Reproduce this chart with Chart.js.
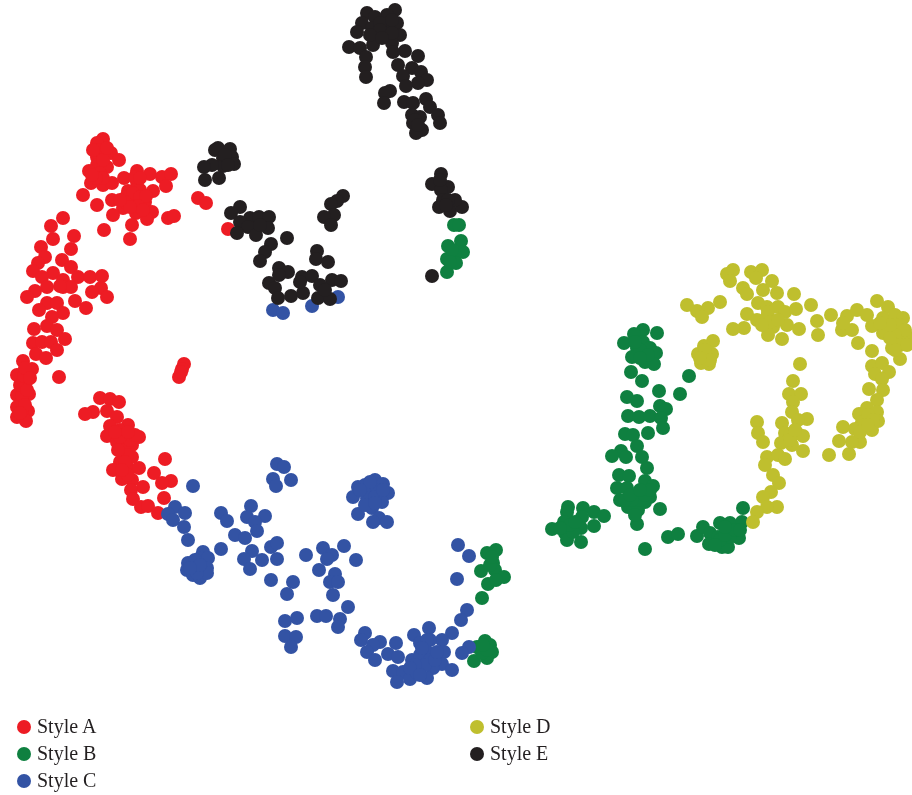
<!DOCTYPE html>
<html>
<head>
<meta charset="utf-8">
<title>Style scatter</title>
<script src="https://cdn.jsdelivr.net/npm/chart.js@4"></script>
<style>
html, body { margin: 0; padding: 0; background: #fff; overflow: hidden; }
#wrap { position: relative; width: 912px; height: 795px; }
.item { position: absolute; font: 20px "Liberation Serif", serif; color: #231f20; line-height: 20px; white-space: nowrap; }
.item i { position: absolute; left: -20px; top: 3px; width: 14px; height: 14px; border-radius: 50%; }
</style>
</head>
<body>
<div id="wrap">
<canvas id="scatter" width="912" height="795"></canvas>
<div id="legend"></div>
</div>
<script>
// values, no axes in the original so picture units are used
const styleA = [[103,139],[97,143],[111,153],[97,157],[119,160],[107,167],[97,165],[89,171],[100,173],[91,183],[103,185],[112,183],[124,178],[137,171],[150,174],[162,177],[171,174],[166,186],[137,182],[128,191],[140,190],[153,191],[83,195],[97,205],[112,200],[132,200],[145,202],[123,208],[113,215],[136,213],[152,212],[147,219],[132,225],[130,239],[104,230],[168,218],[174,216],[198,198],[206,203],[228,229],
[126,197],[133,193],[140,197],[146,196],[125,202],[138,206],[130,207],[120,200],[143,210],[100,150],[103,160],[93,150],[103,178],[96,178],[92,175],[107,148],[135,177],[140,178],
[63,218],[51,226],[53,239],[74,236],[71,249],[41,247],[45,257],[38,263],[62,260],[71,267],[33,271],[53,273],[42,277],[63,280],[78,277],[90,277],[102,276],[47,287],[63,287],[71,287],[35,291],[27,297],[101,288],[92,292],[107,297],[75,301],[86,308],[47,303],[57,303],[39,310],[63,313],[52,317],[47,326],[34,329],[57,330],[65,339],[33,343],[42,342],[51,342],[36,354],[46,358],[57,350],[23,361],[32,369],[17,375],[27,380],[59,377],[22,388],[29,394],[17,395],[22,402],[17,407],[28,411],[17,417],[26,421],[184,364],[182,369],[179,377],[181,372],
[22,395],[22,410],[20,385],[24,376],[27,390],[25,405],[20,413],[25,368],[30,378],[60,286],
[100,398],[110,399],[119,402],[107,411],[93,412],[85,414],[117,417],[110,426],[128,425],[120,430],[107,436],[139,437],[125,435],[117,442],[132,445],[123,448],[132,457],[165,459],[120,462],[113,470],[128,468],[139,468],[154,473],[122,479],[132,480],[171,481],[162,483],[143,487],[131,490],[164,498],[133,499],[141,507],[148,506],[158,513],
[125,445],[130,440],[120,437],[127,455],[118,450],[125,462],[128,475],[122,470],[135,435],[115,432],[128,432]];

const styleB = [[487,553],[496,550],[493,563],[481,571],[495,570],[504,577],[488,584],[482,598],[496,580],[485,641],[477,647],[490,645],[492,652],[487,658],[474,661],[482,653],[487,650],[483,645],[490,565],[492,557],
[454,225],[459,225],[448,246],[461,241],[463,252],[447,259],[455,255],[456,263],[447,272],[452,250],[450,262],
[643,330],[657,333],[634,334],[624,343],[643,342],[637,348],[650,348],[656,353],[632,357],[645,362],[654,364],[631,372],[642,381],[659,391],[689,376],[680,394],[627,397],[637,401],[660,406],[666,409],[628,416],[639,417],[650,416],[661,418],[663,428],[648,433],[625,434],[633,435],[637,446],[621,451],[612,456],[626,457],[642,457],[647,468],[619,475],[629,476],[645,481],[653,486],[617,488],[627,488],[620,500],[637,495],[650,497],[645,502],[628,507],[638,510],[660,509],[637,524],[645,549],[668,537],[678,534],
[640,350],[635,342],[648,355],[640,358],[640,500],[632,500],[645,495],[635,515],[625,500],[630,495],[650,490],[640,490],
[568,507],[567,512],[583,508],[582,517],[594,512],[604,516],[594,526],[564,522],[552,529],[572,527],[581,528],[565,533],[567,540],[581,542],[573,532],[570,525],[575,522],[560,528],
[697,536],[703,527],[710,533],[709,544],[720,523],[730,523],[742,522],[743,508],[722,547],[728,547],[739,538],[730,537],[718,537],[720,540],[725,535],[715,545],[735,530],[725,527],[740,530]];

const styleC = [[193,486],[175,507],[185,513],[168,514],[173,520],[184,527],[188,540],[203,552],[221,549],[188,563],[187,570],[200,558],[208,558],[207,568],[193,575],[200,578],[207,573],[197,567],[197,573],[195,560],[200,565],[190,568],
[221,513],[227,521],[251,506],[265,516],[247,517],[255,522],[257,531],[235,535],[245,538],[252,551],[244,559],[262,560],[277,559],[250,569],[271,547],[277,543],[271,580],[293,582],[287,594],[285,621],[297,618],[285,636],[296,637],[291,647],[306,555],
[277,464],[284,467],[273,479],[291,480],[276,486],
[358,487],[365,485],[375,480],[383,484],[388,493],[353,497],[370,490],[377,490],[367,498],[382,502],[372,508],[358,514],[379,518],[387,522],[373,522],[370,482],[360,490],[375,497],[383,490],[365,505],[375,503],
[323,548],[344,546],[332,555],[327,559],[356,560],[319,570],[335,574],[330,582],[338,582],[333,595],[348,607],[317,616],[326,616],[340,619],[338,627],
[458,545],[469,556],[457,579],[467,610],[461,620],[452,633],[429,628],[414,635],[442,640],[420,643],[430,640],[365,633],[361,640],[380,642],[373,645],[396,643],[367,652],[375,660],[388,654],[398,657],[427,652],[444,652],[412,660],[442,664],[393,671],[403,672],[420,667],[433,668],[452,670],[410,679],[397,682],[427,678],[469,647],[462,653],[417,673],
[425,650],[420,655],[430,660],[425,665],[435,660],[415,665],[427,640],[422,648],[437,652],[410,668],[420,675],
[273,310],[283,313],[312,306],[338,297]];

const styleD = [[733,270],[727,274],[730,281],[751,272],[762,270],[756,278],[772,281],[763,290],[743,288],[747,294],[777,293],[794,294],[758,303],[767,307],[778,307],[785,312],[796,309],[811,305],[747,314],[767,317],[757,320],[744,328],[733,329],[787,325],[773,327],[799,329],[768,335],[782,339],[817,321],[818,335],[831,315],[768,312],[770,322],[762,325],[778,320],
[687,305],[697,311],[708,308],[702,317],[720,302],[713,341],[704,346],[698,354],[712,354],[701,363],[709,364],[705,357],[705,350],[710,360],[700,358],
[842,330],[847,316],[857,310],[852,330],[843,323],[872,326],[867,315],[877,301],[888,307],[883,318],[895,315],[903,318],[883,333],[900,325],[910,338],[892,348],[858,343],[872,351],[900,359],[902,342],[872,366],[882,363],[889,372],[875,374],[882,379],[869,389],[883,390],[877,400],[859,414],[867,408],[877,412],[878,421],[870,418],[862,422],
[895,325],[905,330],[895,335],[900,345],[890,325],[907,345],[895,350],[890,338],[880,323],
[843,427],[855,429],[872,430],[860,442],[839,441],[849,454],[829,455],[852,442],[868,415],[873,420],[865,425],[860,432],[868,425],
[800,364],[793,381],[789,394],[801,394],[793,402],[792,412],[807,419],[798,420],[757,422],[758,433],[763,442],[782,423],[785,433],[797,433],[803,436],[781,443],[792,445],[803,451],[767,457],[765,465],[778,455],[785,459],[773,475],[779,483],[771,492],[763,497],[777,507],[767,507],[757,512],[753,522],[790,435],[790,440],[795,430]];

const styleE = [[367,13],[395,10],[387,15],[375,17],[362,23],[397,23],[357,32],[372,28],[387,27],[400,35],[390,37],[349,47],[360,48],[373,45],[392,43],[405,51],[393,52],[418,56],[366,57],[365,67],[398,65],[366,77],[412,68],[403,76],[421,72],[427,80],[418,83],[406,86],[390,91],[385,93],[384,103],[404,102],[413,103],[426,99],[430,107],[412,115],[420,117],[438,115],[440,123],[413,123],[422,130],[416,133],[380,23],[392,20],[380,30],[392,33],[370,35],[382,38],[415,120],[418,125],
[441,174],[432,184],[448,187],[441,190],[439,207],[450,211],[462,207],[455,200],[443,200],[432,276],[448,200],[440,180],[446,205],
[218,148],[230,149],[215,150],[232,157],[223,158],[234,164],[223,166],[212,165],[204,167],[219,178],[205,180],[225,155],[228,165],
[240,207],[231,213],[250,218],[259,217],[269,217],[240,222],[268,228],[248,227],[237,233],[256,235],[271,244],[265,252],[260,261],[287,238],[343,196],[337,201],[331,204],[334,215],[324,217],[331,225],[317,251],[316,259],[328,262],[279,268],[288,272],[269,283],[279,275],[302,277],[312,276],[275,288],[278,298],[291,296],[303,293],[332,280],[341,281],[320,285],[318,298],[330,299],[300,282],[260,225],[325,290]];

const seriesNames = ['Style A', 'Style B', 'Style C', 'Style D', 'Style E'];
const seriesColors = ['#ed1c24', '#0f8040', '#3353a4', '#bfbf2e', '#231f20'];
const seriesPoints = [styleA, styleB, styleC, styleD, styleE];
const legendSpots = [[37, 716], [37, 743], [37, 770], [490, 716], [490, 743]];

new Chart(document.getElementById('scatter'), {
    type: 'scatter',
    data: {
        datasets: seriesNames.map(function (name, i) {
            return {
                label: name,
                data: seriesPoints[i].map(function (p) { return {x: p[0], y: p[1]}; }),
                backgroundColor: seriesColors[i],
                borderWidth: 0,
                pointRadius: 7,
                order: seriesNames.length - i, // black ends up on top
                clip: false
            };
        })
    },
    options: {
        responsive: false,
        animation: false,
        layout: {padding: 0, autoPadding: false}, // otherwise the plot shrinks by the point radius
        plugins: {
            legend: {display: false},
            tooltip: {enabled: false}
        },
        scales: {
            x: {type: 'linear', display: false, min: 0, max: 912},
            y: {type: 'linear', display: false, min: 0, max: 795, reverse: true}
        }
    }
});

// legend sits in two columns under the plot
const legend = document.getElementById('legend');
seriesNames.forEach(function (name, i) {
    const item = document.createElement('div');
    item.className = 'item';
    item.style.left = legendSpots[i][0] + 'px';
    item.style.top = legendSpots[i][1] + 'px';
    item.innerHTML = '<i style="background:' + seriesColors[i] + ';top:4px"></i>' + name;
    legend.appendChild(item);
});
</script>
</body>
</html>
